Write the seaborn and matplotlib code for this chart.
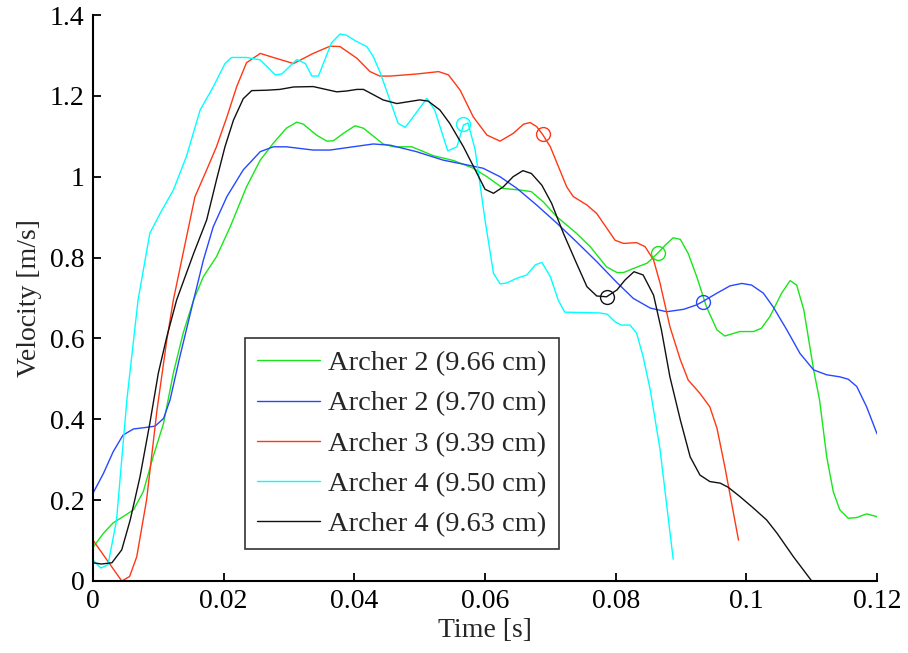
import numpy as np
import pandas as pd
import matplotlib
matplotlib.use("Agg")
import matplotlib.pyplot as plt
import seaborn as sns

# Velocity traces (time in s, velocity in m/s)
t_a2_966 = [0, 0.0016, 0.0031, 0.0046, 0.0062, 0.0077, 0.0092, 0.0108, 0.0123, 0.0138,
            0.0154, 0.0169, 0.0189, 0.021, 0.0235, 0.0256, 0.0276, 0.0296, 0.0312, 0.0322,
            0.0342, 0.0358, 0.0368, 0.0383, 0.0401, 0.0414, 0.0424, 0.0444, 0.046, 0.0488,
            0.0521, 0.0552, 0.0582, 0.0603, 0.0628, 0.0654, 0.0671, 0.0689, 0.071, 0.074,
            0.0761, 0.0786, 0.0802, 0.0812, 0.0827, 0.0848, 0.0865, 0.0876, 0.0888, 0.0899,
            0.0911, 0.0924, 0.0939, 0.0955, 0.0967, 0.099, 0.1011, 0.1023, 0.1036, 0.1054,
            0.1067, 0.1077, 0.1088, 0.1103, 0.1112, 0.1123, 0.1133, 0.1143, 0.1156, 0.1169,
            0.1184, 0.12]
v_a2_966 = [0.083, 0.118, 0.144, 0.159, 0.176, 0.221, 0.307, 0.39, 0.514, 0.613,
            0.695, 0.753, 0.802, 0.876, 0.975, 1.041, 1.083, 1.12, 1.135, 1.13,
            1.103, 1.088, 1.089, 1.107, 1.126, 1.12, 1.107, 1.081, 1.074, 1.074,
            1.052, 1.04, 1.021, 1.0, 0.971, 0.967, 0.963, 0.938, 0.901, 0.86,
            0.827, 0.777, 0.763, 0.763, 0.773, 0.786, 0.812, 0.831, 0.849, 0.845,
            0.81, 0.753, 0.678, 0.621, 0.606, 0.617, 0.617, 0.625, 0.654, 0.712,
            0.743, 0.732, 0.67, 0.522, 0.448, 0.307, 0.221, 0.176, 0.155, 0.157,
            0.166, 0.159]

t_a2_970 = [0, 0.0016, 0.0031, 0.0046, 0.0062, 0.0082, 0.0095, 0.0108, 0.0118, 0.0133,
            0.0154, 0.0169, 0.0184, 0.0205, 0.023, 0.0256, 0.0276, 0.0296, 0.0337, 0.0363,
            0.0398, 0.0429, 0.0455, 0.0495, 0.0536, 0.0567, 0.0597, 0.0623, 0.0649, 0.0679,
            0.071, 0.074, 0.0771, 0.0802, 0.0827, 0.0853, 0.0878, 0.0904, 0.0924, 0.0933,
            0.0955, 0.0975, 0.0993, 0.1008, 0.1026, 0.1041, 0.1062, 0.1082, 0.1103, 0.1123,
            0.1143, 0.1156, 0.1169, 0.1184, 0.12]
v_a2_970 = [0.217, 0.266, 0.32, 0.361, 0.376, 0.38, 0.383, 0.402, 0.448, 0.555,
            0.695, 0.794, 0.876, 0.951, 1.017, 1.062, 1.074, 1.074, 1.066, 1.066,
            1.074, 1.081, 1.078, 1.062, 1.041, 1.031, 1.021, 1.0, 0.971, 0.93,
            0.885, 0.839, 0.79, 0.738, 0.699, 0.675, 0.666, 0.672, 0.683, 0.691,
            0.712, 0.73, 0.736, 0.732, 0.712, 0.678, 0.621, 0.563, 0.522, 0.51,
            0.505, 0.499, 0.481, 0.431, 0.364]

t_a3_939 = [0, 0.0044, 0.0056, 0.0067, 0.0082, 0.0098, 0.0113, 0.0123, 0.0138, 0.0156,
            0.0174, 0.0189, 0.0205, 0.022, 0.0235, 0.0256, 0.0276, 0.0307, 0.0337, 0.0363,
            0.0378, 0.0404, 0.0424, 0.0439, 0.0455, 0.0495, 0.0529, 0.0544, 0.0562, 0.0582,
            0.0603, 0.0623, 0.0643, 0.0659, 0.0669, 0.0679, 0.0688, 0.07, 0.0725, 0.0735,
            0.0756, 0.0771, 0.0799, 0.0812, 0.0832, 0.0845, 0.0858, 0.0868, 0.0883, 0.0899,
            0.0911, 0.0929, 0.0944, 0.0955, 0.0967, 0.0988]
v_a3_939 = [0.101, 0.0, 0.011, 0.06, 0.2, 0.423, 0.596, 0.695, 0.811, 0.95,
            1.017, 1.074, 1.148, 1.223, 1.282, 1.305, 1.295, 1.28, 1.305, 1.323,
            1.322, 1.293, 1.26, 1.249, 1.249, 1.254, 1.26, 1.252, 1.214, 1.148,
            1.103, 1.088, 1.107, 1.13, 1.134, 1.124, 1.105, 1.074, 0.975, 0.951,
            0.93, 0.909, 0.843, 0.835, 0.837, 0.827, 0.794, 0.736, 0.629, 0.547,
            0.497, 0.464, 0.431, 0.378, 0.283, 0.101]

t_a4_950 = [0, 0.0012, 0.0023, 0.0036, 0.0052, 0.0069, 0.0087, 0.0103, 0.0123, 0.0143,
            0.0164, 0.0184, 0.0202, 0.0212, 0.0235, 0.0256, 0.0279, 0.0289, 0.0312, 0.0325,
            0.0335, 0.0345, 0.0365, 0.0378, 0.0388, 0.0404, 0.0419, 0.0429, 0.0439, 0.0467,
            0.0478, 0.049, 0.0511, 0.0523, 0.0543, 0.0557, 0.0567, 0.0574, 0.0585, 0.06,
            0.0613, 0.0623, 0.0633, 0.0649, 0.0664, 0.0677, 0.0687, 0.07, 0.0712, 0.0722,
            0.0776, 0.0787, 0.0799, 0.0809, 0.0822, 0.0832, 0.0842, 0.0853, 0.0868, 0.0888]
v_a4_950 = [0.052, 0.032, 0.04, 0.15, 0.45, 0.695, 0.86, 0.91, 0.967, 1.05,
            1.165, 1.222, 1.28, 1.295, 1.295, 1.289, 1.252, 1.254, 1.29, 1.28,
            1.249, 1.249, 1.331, 1.353, 1.35, 1.334, 1.322, 1.297, 1.26, 1.132,
            1.122, 1.148, 1.194, 1.165, 1.064, 1.074, 1.128, 1.133, 1.066, 0.893,
            0.761, 0.735, 0.737, 0.749, 0.757, 0.782, 0.788, 0.753, 0.695, 0.665,
            0.663, 0.66, 0.641, 0.633, 0.633, 0.613, 0.555, 0.472, 0.324, 0.054]

t_a4_963 = [0, 0.0013, 0.0029, 0.0044, 0.0057, 0.0072, 0.0087, 0.01, 0.0113, 0.0128,
            0.0154, 0.0174, 0.0189, 0.0202, 0.0215, 0.023, 0.0243, 0.0266, 0.0286, 0.0307,
            0.0337, 0.0373, 0.0388, 0.0404, 0.0414, 0.0444, 0.0465, 0.05, 0.0513, 0.0531,
            0.0546, 0.0567, 0.0585, 0.06, 0.0613, 0.0628, 0.0643, 0.0658, 0.0671, 0.0687,
            0.0702, 0.072, 0.074, 0.0756, 0.0771, 0.0786, 0.0802, 0.0814, 0.0828, 0.0842,
            0.0858, 0.087, 0.0883, 0.0899, 0.0914, 0.0929, 0.0944, 0.096, 0.0972, 0.099,
            0.1011, 0.1031, 0.1047, 0.1072, 0.11]
v_a4_963 = [0.045, 0.042, 0.045, 0.077, 0.151, 0.258, 0.39, 0.514, 0.604, 0.695,
            0.81, 0.893, 0.992, 1.074, 1.14, 1.193, 1.213, 1.214, 1.216, 1.222,
            1.223, 1.21, 1.212, 1.216, 1.216, 1.19, 1.181, 1.19, 1.187, 1.165,
            1.132, 1.074, 1.017, 0.969, 0.959, 0.975, 1.0, 1.015, 1.008, 0.979,
            0.934, 0.86, 0.786, 0.728, 0.705, 0.703, 0.72, 0.744, 0.765, 0.757,
            0.707, 0.621, 0.505, 0.398, 0.307, 0.262, 0.246, 0.242, 0.232, 0.209,
            0.18, 0.151, 0.118, 0.06, 0.0]

labels = ["Archer 2 (9.66 cm)", "Archer 2 (9.70 cm)", "Archer 3 (9.39 cm)",
          "Archer 4 (9.50 cm)", "Archer 4 (9.63 cm)"]
colors = ["#19e619", "#2848ff", "#ff3814", "#00ffff", "#111111"]

# Release points marked on each trace
release_t = [0.0865, 0.0933, 0.0688, 0.0566, 0.0786]
release_v = [0.812, 0.691, 1.105, 1.13, 0.703]

x_ticks = [0, 0.02, 0.04, 0.06, 0.08, 0.1, 0.12]
x_tick_labels = ["0", "0.02", "0.04", "0.06", "0.08", "0.1", "0.12"]
y_ticks = [0, 0.2, 0.4, 0.6, 0.8, 1.0, 1.2, 1.4]
y_tick_labels = ["0", "0.2", "0.4", "0.6", "0.8", "1", "1.2", "1.4"]

series = [(t_a2_966, v_a2_966), (t_a2_970, v_a2_970), (t_a3_939, v_a3_939),
          (t_a4_950, v_a4_950), (t_a4_963, v_a4_963)]

frames = []
for (t, v), lab in zip(series, labels):
    frames.append(pd.DataFrame({"Time": t, "Velocity": v, "Trial": lab,
                                "order": np.arange(len(t))}))
df = pd.concat(frames, ignore_index=True)

sns.set_style("ticks")
plt.rcParams["font.family"] = ["Liberation Serif", "DejaVu Serif"]
plt.rcParams["mathtext.fontset"] = "stix"

fig = plt.figure(figsize=(9.08, 6.53), dpi=100)
ax = fig.add_axes([0.1024, 0.1103, 0.8635, 0.8667])

sns.lineplot(data=df, x="Time", y="Velocity", hue="Trial", hue_order=labels,
             palette=dict(zip(labels, colors)), sort=False, estimator=None,
             units="Trial", linewidth=1.0, ax=ax, legend=True)

for tx, vy, c in zip(release_t, release_v, colors):
    ax.plot([tx], [vy], marker="o", markersize=10, markerfacecolor="none",
            markeredgecolor=c, markeredgewidth=1.0, linestyle="none")

ax.set_xlim(0, 0.12)
ax.set_ylim(0, 1.4)
ax.set_xticks(x_ticks)
ax.set_xticklabels(x_tick_labels)
ax.set_yticks(y_ticks)
ax.set_yticklabels(y_tick_labels)
ax.tick_params(direction="in", length=6, width=1.3, labelsize=20, pad=6,
               colors="black")
for side in ["top", "right"]:
    ax.spines[side].set_visible(False)
for side in ["left", "bottom"]:
    ax.spines[side].set_linewidth(1.5)
    ax.spines[side].set_color("black")

ax.set_xlabel("Time [s]", fontsize=20, labelpad=3)
ax.set_ylabel("Velocity [m/s]", fontsize=20, labelpad=6)

handles, lbls = ax.get_legend_handles_labels()
leg = ax.legend(handles, lbls, loc="lower left", bbox_to_anchor=(0.194, 0.0565),
                fontsize=20.5, frameon=True, fancybox=False, edgecolor="black",
                handlelength=2.2, handletextpad=0.3, labelspacing=0.5,
                borderpad=0.42, borderaxespad=0)
leg.get_frame().set_linewidth(1.2)
for h in leg.get_lines():
    h.set_linewidth(1.0)

fig.savefig("out.png", dpi=100)
